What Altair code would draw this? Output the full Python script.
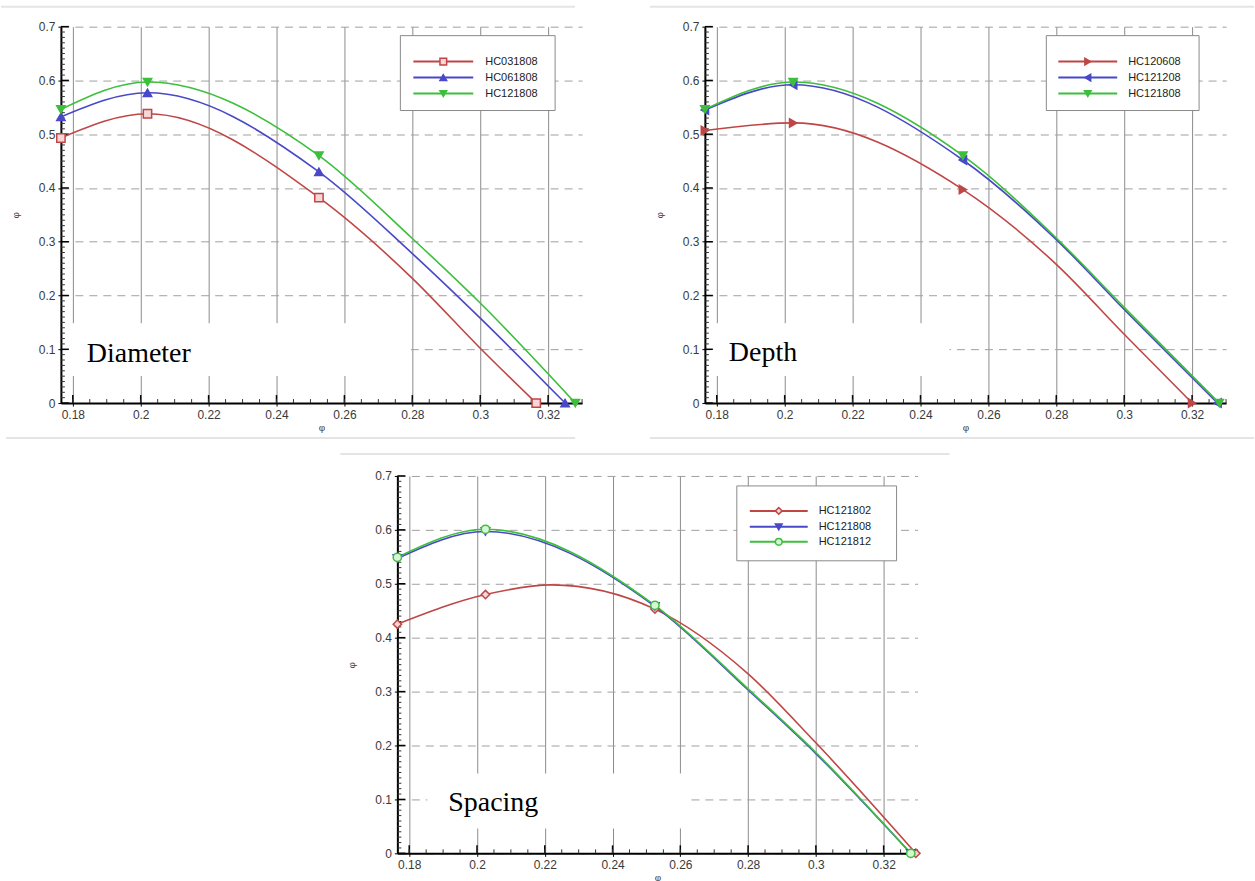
import altair as alt
import pandas as pd

# ---------------- axis ticks ----------------
phi_ticks = [0.18, 0.20, 0.22, 0.24, 0.26, 0.28, 0.30, 0.32]
psi_ticks = [0.0, 0.1, 0.2, 0.3, 0.4, 0.5, 0.6, 0.7]
phi_minor = [0.18, 0.185, 0.19, 0.195, 0.20, 0.205, 0.21, 0.215, 0.22, 0.225, 0.23, 0.235,
             0.24, 0.245, 0.25, 0.255, 0.26, 0.265, 0.27, 0.275, 0.28, 0.285, 0.29, 0.295,
             0.30, 0.305, 0.31, 0.315, 0.32, 0.325, 0.33]
psi_minor = [0.01, 0.02, 0.03, 0.04, 0.05, 0.06, 0.07, 0.08, 0.09, 0.11, 0.12, 0.13, 0.14,
             0.15, 0.16, 0.17, 0.18, 0.19, 0.21, 0.22, 0.23, 0.24, 0.25, 0.26, 0.27, 0.28,
             0.29, 0.31, 0.32, 0.33, 0.34, 0.35, 0.36, 0.37, 0.38, 0.39, 0.41, 0.42, 0.43,
             0.44, 0.45, 0.46, 0.47, 0.48, 0.49, 0.51, 0.52, 0.53, 0.54, 0.55, 0.56, 0.57,
             0.58, 0.59, 0.61, 0.62, 0.63, 0.64, 0.65, 0.66, 0.67, 0.68, 0.69]

# ---------------- Diameter (marked points) ----------------
dia_names = ["HC031808", "HC061808", "HC121808"]
dia_phi_1 = [0.1765, 0.2020, 0.2525, 0.3165]
dia_psi_1 = [0.493, 0.538, 0.382, 0.000]
dia_phi_2 = [0.1765, 0.2020, 0.2525, 0.3250]
dia_psi_2 = [0.532, 0.577, 0.430, 0.000]
dia_phi_3 = [0.1765, 0.2020, 0.2525, 0.3280]
dia_psi_3 = [0.546, 0.597, 0.460, 0.000]
# curve values read between markers (unmarked)
dia_mid_phi_1 = [0.28, 0.30]
dia_mid_psi_1 = [0.232, 0.102]
dia_mid_phi_2 = [0.28, 0.30]
dia_mid_psi_2 = [0.278, 0.158]
dia_mid_phi_3 = [0.28, 0.30]
dia_mid_psi_3 = [0.306, 0.186]

# ---------------- Depth ----------------
dep_names = ["HC120608", "HC121208", "HC121808"]
dep_phi_1 = [0.1765, 0.2025, 0.2525, 0.3200]
dep_psi_1 = [0.507, 0.521, 0.397, 0.000]
dep_phi_2 = [0.1765, 0.2025, 0.2525, 0.3275]
dep_psi_2 = [0.545, 0.592, 0.452, 0.000]
dep_phi_3 = [0.1765, 0.2025, 0.2525, 0.3280]
dep_psi_3 = [0.546, 0.597, 0.460, 0.000]
dep_mid_phi_1 = [0.28, 0.30]
dep_mid_psi_1 = [0.258, 0.128]
dep_mid_phi_2 = [0.28, 0.30]
dep_mid_psi_2 = [0.304, 0.174]
dep_mid_phi_3 = [0.28, 0.30]
dep_mid_psi_3 = [0.307, 0.178]

# ---------------- Spacing ----------------
spa_names = ["HC121802", "HC121808", "HC121812"]
spa_phi_1 = [0.1765, 0.2025, 0.2525, 0.3295]
spa_psi_1 = [0.425, 0.480, 0.453, 0.000]
spa_phi_2 = [0.1765, 0.2025, 0.2525, 0.3280]
spa_psi_2 = [0.547, 0.597, 0.458, 0.000]
spa_phi_3 = [0.1765, 0.2025, 0.2525, 0.3280]
spa_psi_3 = [0.549, 0.601, 0.460, 0.000]
spa_mid_phi_1 = [0.222, 0.28, 0.30]
spa_mid_psi_1 = [0.498, 0.333, 0.205]
spa_mid_phi_2 = [0.28, 0.30]
spa_mid_psi_2 = [0.303, 0.185]
spa_mid_phi_3 = [0.28, 0.30]
spa_mid_psi_3 = [0.305, 0.187]

RED, BLUE, GREEN = "#c04646", "#4848c8", "#3cbf3c"
colors = [RED, BLUE, GREEN]

FONT = "Liberation Sans"
one = pd.DataFrame({"k": [0]})


def curve_frame(phi, psi, mid_phi, mid_psi):
    df = pd.DataFrame({"x": list(phi) + list(mid_phi), "y": list(psi) + list(mid_psi)})
    return df.sort_values("x")


def panel(names, phis, psis, mid_phis, mid_psis, shapes, fills, label, box,
          text_xy, leg, width, height, borders):
    xs = alt.Scale(domain=[0.1765, 0.33], nice=False, zero=False)
    ys = alt.Scale(domain=[0.0, 0.7], nice=False, zero=False)
    xaxis = alt.Axis(values=phi_ticks, format=".2~f", title="φ", grid=True,
                     gridColor="#8c8c8c", gridWidth=1, domainColor="#000", domainWidth=2,
                     tickColor="#000", tickSize=3, labelFont=FONT, labelFontSize=12,
                     labelColor="#3a3a3a", labelPadding=3, titleFont=FONT, titleFontSize=10,
                     titleFontWeight="normal", titleColor="#444", titlePadding=2)
    yaxis = alt.Axis(values=psi_ticks, format=".1~f", title="φ", grid=True,
                     gridColor="#a0a0a0", gridWidth=1, gridDash=[8, 6], domainColor="#000",
                     domainWidth=2, tickColor="#000", tickSize=3, labelFont=FONT,
                     labelFontSize=12, labelColor="#3a3a3a", labelPadding=3,
                     titleFont=FONT, titleFontSize=10, titleFontWeight="normal",
                     titleColor="#444", titlePadding=18)
    X = alt.X("x:Q", scale=xs, axis=xaxis)
    Y = alt.Y("y:Q", scale=ys, axis=yaxis)

    layers = []
    # white box behind label
    layers.append(alt.Chart(one).mark_rect(fill="white").encode(
        x=alt.value(box[0]), x2=alt.value(box[1]), y=alt.value(box[2]), y2=alt.value(box[3])))
    # inner ticks
    layers.append(alt.Chart(pd.DataFrame({"x": phi_ticks})).mark_rule(color="black", strokeWidth=1.5)
                  .encode(x=X, y=alt.value(height), y2=alt.value(height - 8)))
    layers.append(alt.Chart(pd.DataFrame({"x": phi_minor})).mark_rule(color="#333", strokeWidth=1)
                  .encode(x=X, y=alt.value(height), y2=alt.value(height - 4)))
    layers.append(alt.Chart(pd.DataFrame({"y": psi_ticks})).mark_rule(color="black", strokeWidth=1.5)
                  .encode(y=Y, x=alt.value(0), x2=alt.value(8)))
    layers.append(alt.Chart(pd.DataFrame({"y": psi_minor})).mark_rule(color="#333", strokeWidth=1)
                  .encode(y=Y, x=alt.value(0), x2=alt.value(4)))
    # curves
    for i in range(3):
        df = curve_frame(phis[i], psis[i], mid_phis[i], mid_psis[i])
        layers.append(alt.Chart(df).mark_line(interpolate="monotone", color=colors[i], strokeWidth=1.6)
                      .encode(x=X, y=Y))
    for i in range(3):
        df = pd.DataFrame({"x": phis[i], "y": psis[i]})
        layers.append(alt.Chart(df).mark_point(shape=shapes[i], size=70, stroke=colors[i],
                                               fill=fills[i], fillOpacity=1, strokeWidth=1.5,
                                               opacity=1)
                      .encode(x=X, y=Y))
    # legend
    lx0, lx1, ly0, ly1, line0, line1, tx, rows = leg
    layers.append(alt.Chart(one).mark_rect(fill="white", stroke="#8a8a8a", strokeWidth=1).encode(
        x=alt.value(lx0), x2=alt.value(lx1), y=alt.value(ly0), y2=alt.value(ly1)))
    for i in range(3):
        layers.append(alt.Chart(one).mark_rule(color=colors[i], strokeWidth=2).encode(
            x=alt.value(line0), x2=alt.value(line1), y=alt.value(rows[i])))
        layers.append(alt.Chart(one).mark_point(shape=shapes[i], size=45, stroke=colors[i],
                                                fill=fills[i], fillOpacity=1, strokeWidth=1.5,
                                                opacity=1)
                      .encode(x=alt.value((line0 + line1) / 2), y=alt.value(rows[i])))
        layers.append(alt.Chart(one).mark_text(align="left", baseline="middle", font=FONT,
                                               fontSize=11, color="#222")
                      .encode(x=alt.value(tx), y=alt.value(rows[i]), text=alt.value(names[i])))
    # label
    layers.append(alt.Chart(one).mark_text(align="left", baseline="alphabetic",
                                           font="Liberation Serif", fontSize=28, color="black")
                  .encode(x=alt.value(text_xy[0]), y=alt.value(text_xy[1]), text=alt.value(label)))
    # faint frame lines of the original figure
    for (bx0, bx1, by) in borders:
        layers.append(alt.Chart(one).mark_rule(color="#e4e4e4", strokeWidth=2).encode(
            x=alt.value(bx0), x2=alt.value(bx1), y=alt.value(by)))
    return alt.layer(*layers).properties(width=width, height=height)


p1 = panel(dia_names, [dia_phi_1, dia_phi_2, dia_phi_3], [dia_psi_1, dia_psi_2, dia_psi_3],
           [dia_mid_phi_1, dia_mid_phi_2, dia_mid_phi_3],
           [dia_mid_psi_1, dia_mid_psi_2, dia_mid_psi_3],
           ["square", "triangle-up", "triangle-down"], ["#f6d6d6", BLUE, GREEN],
           "Diameter", (5, 350, 297, 350), (26, 336),
           (340, 495, 9, 84, 353, 413, 425, [35, 51, 67]), 522, 377,
           [(-60, 515, -20), (-55, 515, 412)])

p2 = panel(dep_names, [dep_phi_1, dep_phi_2, dep_phi_3], [dep_psi_1, dep_psi_2, dep_psi_3],
           [dep_mid_phi_1, dep_mid_phi_2, dep_mid_phi_3],
           [dep_mid_psi_1, dep_mid_psi_2, dep_mid_psi_3],
           ["triangle-right", "triangle-left", "triangle-down"], [RED, BLUE, GREEN],
           "Depth", (5, 245, 297, 350), (24, 335),
           (342, 495, 9, 84, 354, 413, 424, [35, 51, 67]), 522, 377,
           [(-55, 550, -20), (-55, 550, 412)])

p3 = panel(spa_names, [spa_phi_1, spa_phi_2, spa_phi_3], [spa_psi_1, spa_psi_2, spa_psi_3],
           [spa_mid_phi_1, spa_mid_phi_2, spa_mid_phi_3],
           [spa_mid_psi_1, spa_mid_psi_2, spa_mid_psi_3],
           ["diamond", "triangle-down", "circle"], ["#f6d6d6", BLUE, "#d8f5d8"],
           "Spacing", (30, 293, 298, 353), (51, 336),
           (340, 500, 10, 85, 353, 411, 422, [35, 51, 66]), 521, 378,
           [(-57, 553, -22)])

spacer = alt.Chart(one).mark_point(opacity=0).encode(
    x=alt.X("k:Q", axis=None), y=alt.Y("k:Q", axis=None)).properties(width=327, height=378)

top = alt.hconcat(p1, p2, spacing=123, bounds="flush")
bottom = alt.hconcat(spacer, p3, spacing=10, bounds="flush")
chart = alt.vconcat(top, bottom, spacing=14, bounds="full").properties(
    padding={"left": 0, "top": 5, "right": 0, "bottom": 0},
    background="white",
).configure_view(stroke=None)

chart.save("out.html", embed_options={"renderer": "svg", "actions": False})
